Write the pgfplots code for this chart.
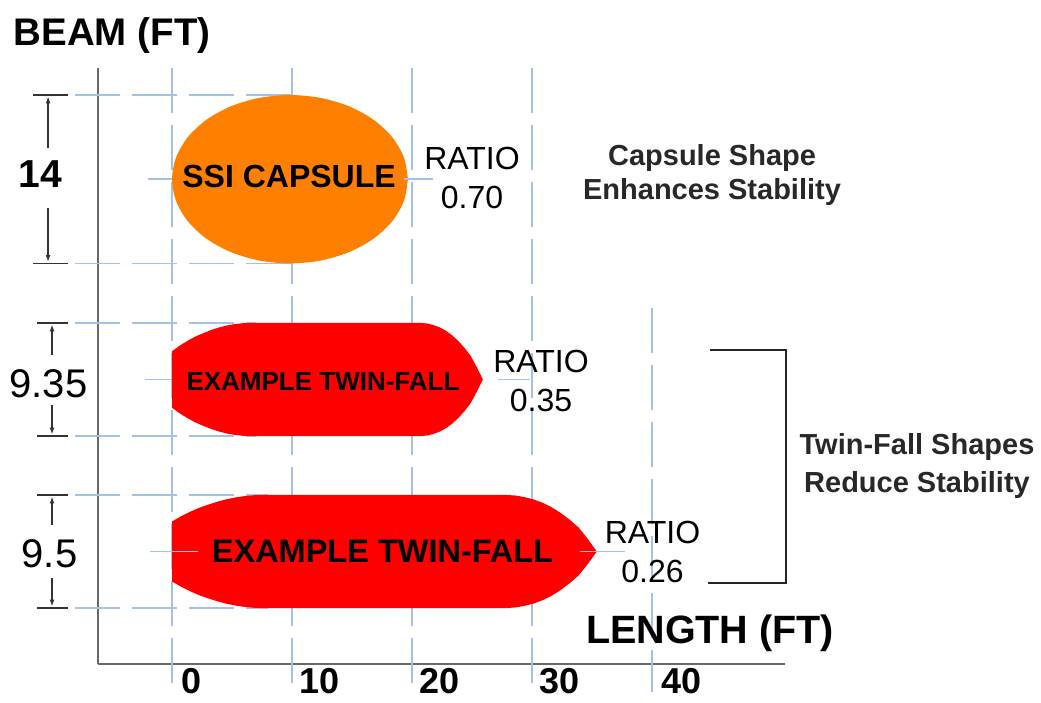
\documentclass[border=0pt]{standalone}
\usepackage{pgfplots}
\pgfplotsset{compat=1.18}
\usepackage{fontspec}
\setmainfont{Liberation Sans}
\usetikzlibrary{arrows.meta}
\definecolor{gridblue}{RGB}{164,194,232}
\definecolor{capor}{RGB}{255,128,0}
\definecolor{twred}{RGB}{255,0,0}
\definecolor{txtgray}{RGB}{40,40,40}
\definecolor{axgray}{RGB}{105,105,105}
\newcommand{\fs}[1]{\fontsize{#1bp}{#1bp}\selectfont}

\begin{document}
\begin{tikzpicture}
\useasboundingbox (0,0) rectangle (1041bp,703bp);
\begin{axis}[
  at={(98bp,39bp)}, anchor=south west,
  scale only axis, width=687bp, height=596bp,
  xmin=-6.17, xmax=51.08, ymin=0, ymax=49.67,
  axis x line=bottom, axis y line=left,
  axis line style={-, line width=2.5bp, axgray},
  xtick=\empty, ytick=\empty,
  clip=false,
  grid line/.style={gridblue, line width=1.6bp, dash pattern=on 45bp off 12bp},
  center line/.style={gridblue, line width=1.6bp},
  dim line/.style={black!80, line width=1.6bp},
  dim arrow/.style={black!80, line width=1.6bp, -{Latex[length=7bp,width=5bp]}},
]
% vertical grid lines
\addplot[grid line] coordinates {(0,49.67) (0,-2.33)};
\addplot[grid line] coordinates {(10,49.67) (10,-2.33)};
\addplot[grid line] coordinates {(20,49.67) (20,-2.33)};
\addplot[grid line] coordinates {(30,49.67) (30,-2.33)};
\addplot[grid line] coordinates {(40,29.67) (40,-2.33)};
% horizontal grid lines
\addplot[grid line] coordinates {(-8.08,47.42) (10,47.42)};
\addplot[grid line] coordinates {(-8.08,33.38) (10,33.38)};
\addplot[grid line] coordinates {(-8.08,28.42) (7,28.42)};
\addplot[grid line] coordinates {(-8.08,19.0) (7,19.0)};
\addplot[grid line] coordinates {(-8.08,14.085) (8,14.085)};
\addplot[grid line] coordinates {(-8.08,4.665) (8,4.665)};

% SSI capsule (ellipse outline)
\addplot[fill=capor, draw=none, smooth] coordinates {
 (19.66,40.40) (19.325,42.217) (18.343,43.91) (16.781,45.364) (14.745,46.48) (12.374,47.18)
 (9.83,47.42) (7.286,47.18) (4.915,46.48) (2.879,45.364) (1.317,43.91) (0.335,42.217)
 (0,40.40) (0.335,38.583) (1.317,36.89) (2.879,35.436) (4.915,34.32) (7.286,33.62)
 (9.83,33.38) (12.374,33.62) (14.745,34.32) (16.781,35.436) (18.343,36.89) (19.325,38.583)
 (19.66,40.40)};

% Example twin-fall (upper)
\addplot[fill=twred, draw=none] coordinates {
 (0,26.065) (0.65,26.536) (1.3,26.936) (1.95,27.29) (2.6,27.572) (3.25,27.831)
 (3.9,28.043) (4.55,28.208) (5.2,28.326) (5.85,28.396) (6.5,28.42)
 (20.8,28.42) (21.31,28.373) (21.82,28.232) (22.33,28.043) (22.84,27.761) (23.35,27.384)
 (23.86,26.913) (24.37,26.348) (24.88,25.688) (25.39,24.746) (25.9,23.71)
 (25.39,22.674) (24.88,21.732) (24.37,21.072) (23.86,20.507) (23.35,20.036)
 (22.84,19.659) (22.33,19.377) (21.82,19.188) (21.31,19.047) (20.8,19.0)
 (6.5,19.0) (5.85,19.024) (5.2,19.094) (4.55,19.212) (3.9,19.377) (3.25,19.589)
 (2.6,19.848) (1.95,20.13) (1.3,20.484) (0.65,20.884) (0,21.355)};

% Example twin-fall (lower)
\addplot[fill=twred, draw=none] coordinates {
 (0,11.875) (0.76,12.317) (1.52,12.693) (2.28,13.024) (3.04,13.289) (3.8,13.533)
 (4.56,13.731) (5.32,13.886) (6.08,13.997) (6.84,14.063) (7.6,14.085)
 (27.9,14.085) (28.65,14.038) (29.4,13.897) (30.15,13.708) (30.9,13.426) (31.65,13.049)
 (32.4,12.578) (33.15,12.013) (33.9,11.353) (34.65,10.411) (35.4,9.375)
 (34.65,8.339) (33.9,7.397) (33.15,6.737) (32.4,6.172) (31.65,5.701)
 (30.9,5.324) (30.15,5.042) (29.4,4.853) (28.65,4.712) (27.9,4.665)
 (7.6,4.665) (6.84,4.687) (6.08,4.753) (5.32,4.864) (4.56,5.019) (3.8,5.217)
 (3.04,5.461) (2.28,5.726) (1.52,6.057) (0.76,6.433) (0,6.875)};

% short centre lines
\addplot[center line] coordinates {(-2.0,40.4) (0,40.4)};
\addplot[center line] coordinates {(19.3,40.4) (21.75,40.4)};
\addplot[center line] coordinates {(-2.25,23.71) (0,23.71)};
\addplot[center line] coordinates {(27.2,23.71) (29.8,23.71)};
\addplot[center line] coordinates {(-1.83,9.375) (2.2,9.375)};
\addplot[center line] coordinates {(34.0,9.375) (37.75,9.375)};

% beam dimension markers
\addplot[dim line] coordinates {(-11.58,47.42) (-8.67,47.42)};
\addplot[dim line] coordinates {(-11.58,33.38) (-8.67,33.38)};
\addplot[dim arrow] coordinates {(-10.33,43.0) (-10.33,47.3)};
\addplot[dim arrow] coordinates {(-10.33,38.0) (-10.33,33.5)};
\addplot[dim line] coordinates {(-11.25,28.42) (-8.67,28.42)};
\addplot[dim line] coordinates {(-11.25,19.0) (-8.67,19.0)};
\addplot[dim arrow] coordinates {(-10.0,25.75) (-10.0,28.3)};
\addplot[dim arrow] coordinates {(-10.0,21.58) (-10.0,19.12)};
\addplot[dim line] coordinates {(-11.25,14.085) (-8.67,14.085)};
\addplot[dim line] coordinates {(-11.25,4.665) (-8.67,4.665)};
\addplot[dim arrow] coordinates {(-10.0,11.58) (-10.0,13.96)};
\addplot[dim arrow] coordinates {(-10.0,7.17) (-10.0,4.79)};

% bracket
\addplot[black!85, line width=2.5bp] coordinates {(44.83,26.17) (51.17,26.17) (51.17,6.75) (44.67,6.75)};

% texts
\node[anchor=base, font=\fs{38.5}\bfseries] at (axis cs:-5.0,51.58) {BEAM (FT)};
\node[anchor=base, font=\fs{39.5}\bfseries] at (axis cs:44.83,1.75) {LENGTH (FT)};
\node[anchor=base, font=\fs{39}\bfseries] at (axis cs:-11.0,39.67) {14};
\node[anchor=base, font=\fs{40}] at (axis cs:-10.29,22.25) {9.35};
\node[anchor=base, font=\fs{40}] at (axis cs:-10.21,8.08) {9.5};

\node[anchor=base, font=\fs{32}\bfseries] at (axis cs:9.75,39.75) {SSI CAPSULE};
\node[anchor=base, font=\fs{26}\bfseries] at (axis cs:12.58,22.83) {EXAMPLE TWIN-FALL};
\node[anchor=base, font=\fs{32.5}\bfseries] at (axis cs:17.54,8.5) {EXAMPLE TWIN-FALL};

\node[anchor=base, font=\fs{32}] at (axis cs:25.0,41.17) {RATIO};
\node[anchor=base, font=\fs{32}] at (axis cs:25.0,38.0) {0.70};
\node[anchor=base, font=\fs{32}] at (axis cs:30.75,24.33) {RATIO};
\node[anchor=base, font=\fs{32}] at (axis cs:30.75,21.08) {0.35};
\node[anchor=base, font=\fs{32}] at (axis cs:40.04,10.08) {RATIO};
\node[anchor=base, font=\fs{32}] at (axis cs:40.04,6.83) {0.26};

\node[anchor=base, font=\fs{29}\bfseries, text=txtgray] at (axis cs:45.0,41.58) {Capsule Shape};
\node[anchor=base, font=\fs{29}\bfseries, text=txtgray] at (axis cs:45.0,38.67) {Enhances Stability};
\node[anchor=base, font=\fs{29}\bfseries, text=txtgray] at (axis cs:62.08,17.42) {Twin-Fall Shapes};
\node[anchor=base, font=\fs{29}\bfseries, text=txtgray] at (axis cs:62.08,14.33) {Reduce Stability};

% x tick labels
\node[anchor=base west, inner sep=0pt, font=\fs{36}\bfseries] at (axis cs:0.75,-2.42) {0};
\node[anchor=base west, inner sep=0pt, font=\fs{36}\bfseries] at (axis cs:10.6,-2.42) {10};
\node[anchor=base west, inner sep=0pt, font=\fs{36}\bfseries] at (axis cs:20.6,-2.42) {20};
\node[anchor=base west, inner sep=0pt, font=\fs{36}\bfseries] at (axis cs:30.6,-2.42) {30};
\node[anchor=base west, inner sep=0pt, font=\fs{36}\bfseries] at (axis cs:40.8,-2.42) {40};
\end{axis}
\end{tikzpicture}
\end{document}
